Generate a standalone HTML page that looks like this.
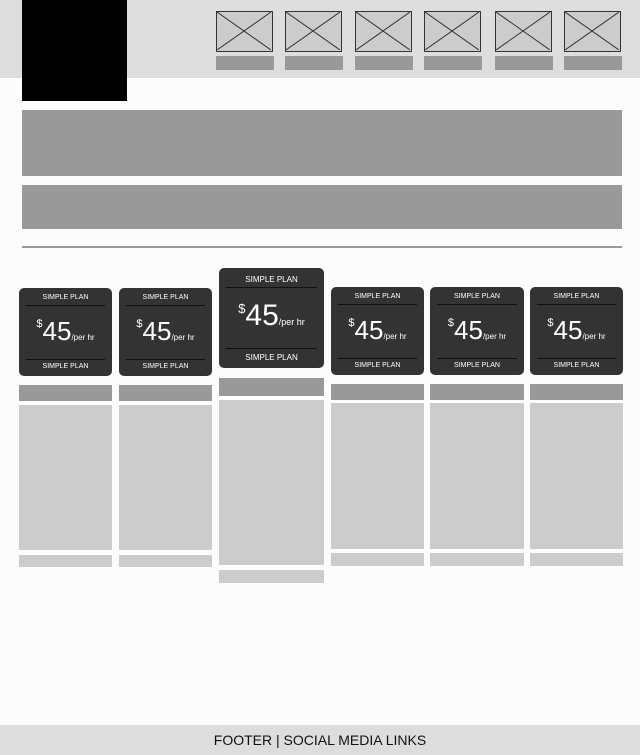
<!DOCTYPE html>
<html><head><meta charset="utf-8"><style>
body{margin:0;width:640px;height:755px;background:#fcfcfc;position:relative;overflow:hidden;font-family:"Liberation Sans",sans-serif}
.a{position:absolute}
.icon{position:absolute;top:11px;width:57px;height:41px;background:#ccc;border:1.5px solid #333;box-sizing:border-box}
.lbl{position:absolute;top:56px;width:58px;height:14px;background:#999}
.card{position:absolute;background:#333;border-radius:5px;color:#fff;text-align:center}
.card .t{position:absolute;left:0;right:0;font-size:7px}
.card .ln{position:absolute;left:7px;right:7px;height:1px;background:#111}
.card .p{position:absolute;left:0;right:0;white-space:nowrap}
.d{position:absolute;background:#999}.l{position:absolute;background:#ccc}
</style></head><body>
<div class="a" style="left:0;top:0;width:640px;height:78px;background:#ddd"></div>
<div class="a" style="left:22px;top:0;width:105px;height:101px;background:#000"></div>
<div id="nav"></div>
<div class="a" style="left:22px;top:110px;width:600px;height:66px;background:#999"></div>
<div class="a" style="left:22px;top:185px;width:600px;height:44px;background:#999"></div>
<div class="a" style="left:22px;top:246px;width:600px;height:2px;background:#999"></div>
<div id="cards"></div>
<div class="a" style="left:0;top:725px;width:640px;height:30px;background:#ddd;text-align:center;font-size:14px;line-height:30px;color:#111">FOOTER | SOCIAL MEDIA LINKS</div>
<script>
const navX=[216,285,355,424,495,564];
const cardsX=[19,119,219,331,430,530];
const cardsW=[93,93,105,93,94,93];
const cardsTop=[288,288,268,287,287,287];
const cardsH=[88,88,100,88,88,88];
const nav=document.getElementById('nav');
navX.forEach(x=>{
 const i=document.createElement('div');i.className='icon';i.style.left=x+'px';
 
 
 i.innerHTML='<svg width="54" height="38" style="position:absolute;left:0;top:0"><line x1="0" y1="0" x2="54" y2="38" stroke="#333"/><line x1="54" y1="0" x2="0" y2="38" stroke="#333"/></svg>';
 nav.appendChild(i);
 const l=document.createElement('div');l.className='lbl';l.style.left=x+'px';
 
 
 nav.appendChild(l);
});
const cc=document.getElementById('cards');
cardsX.forEach((x,k)=>{
 const w=cardsW[k],t=cardsTop[k],h=cardsH[k],big=k==2;
 const c=document.createElement('div');c.className='card';
 
 
 c.style.cssText='left:'+x+'px;top:'+t+'px;width:'+w+'px;height:'+h+'px';
 const fs=big?30:26;
 const lnB=h-(big?20:17), tB=h-(big?15:13), tf=big?8:7;
 c.innerHTML='<div class="t" style="top:'+(big?7:6)+'px;font-size:'+tf+'px">SIMPLE PLAN</div><div class="ln" style="top:'+(big?19:17)+'px"></div>'+
 '<div class="p" style="top:'+(big?33:30)+'px"><span style="font-size:'+(big?13:11)+'px;vertical-align:top">$</span><span style="font-size:'+fs+'px;line-height:'+fs+'px">45</span><span style="font-size:'+(big?9:8)+'px">/per hr</span></div>'+
 '<div class="ln" style="top:'+lnB+'px"></div><div class="t" style="top:'+tB+'px;font-size:'+tf+'px">SIMPLE PLAN</div>';
 cc.appendChild(c);
 let g;
 if(big) g=[[378,18,'d','plan-title-bar'],[400,165,'l','plan-features'],[570,13,'l','plan-button']];
 else if(k<2) g=[[385,16,'d','plan-title-bar'],[405,145,'l','plan-features'],[555,12,'l','plan-button']];
 else g=[[384,16,'d','plan-title-bar'],[403,146,'l','plan-features'],[553,13,'l','plan-button']];
 g.forEach(([y,hh,cl,n])=>{const e=document.createElement('div');e.className=cl;
  
  
  e.style.cssText='left:'+x+'px;top:'+y+'px;width:'+w+'px;height:'+hh+'px';cc.appendChild(e);});
});
</script>
</body></html>
